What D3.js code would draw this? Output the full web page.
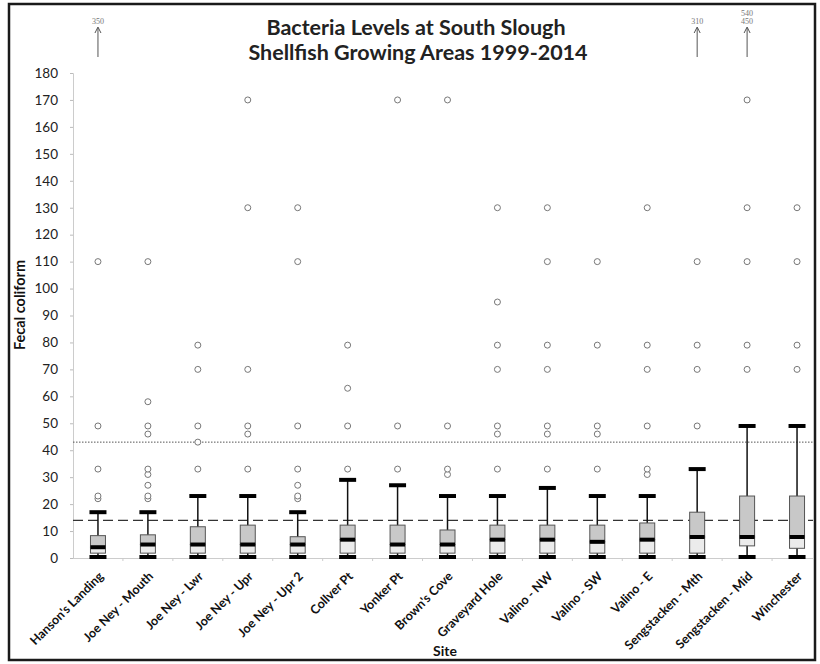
<!DOCTYPE html>
<html>
  <head>
    <meta charset="utf-8" />
    <title>Bacteria Levels at South Slough</title>
    <script src="https://d3js.org/d3.v7.min.js"></script>
    <style>
      body {
          margin: 0;
          background: #fff;
      }
      text {
          font-family: Lato, "Open Sans", sans-serif;
      }
    </style>
  </head>
  <body>

    <svg id="boxplot"></svg>

    <script>
        // site names, left to right
        var sites = ["Hanson's Landing", "Joe Ney - Mouth", "Joe Ney - Lwr", "Joe Ney - Upr",
            "Joe Ney - Upr 2", "Collver Pt", "Yonker Pt", "Brown's Cove", "Graveyard Hole",
            "Valino - NW", "Valino - SW", "Valino - E", "Sengstacken - Mth",
            "Sengstacken - Mid", "Winchester"];

        // box stats (fecal coliform, MPN/100ml)
        var whiskerLow  = [0, 0, 0, 0, 0, 0, 0, 0, 0, 0, 0, 0, 0, 0, 0];
        var q1          = [1.8, 1.8, 1.8, 1.8, 1.8, 1.8, 1.8, 1.8, 1.8, 1.8, 1.8, 1.8, 1.8, 4.5, 3.6];
        var medians     = [4, 5, 5, 5, 5, 6.8, 5, 5, 6.8, 6.8, 6, 6.8, 7.8, 7.8, 7.8];
        var q3          = [8.3, 8.6, 11.6, 12.2, 7.9, 12.2, 12.2, 10.4, 12.2, 12.2, 12.2, 13, 17, 23, 23];
        var whiskerHigh = [17, 17, 23, 23, 17, 29, 27, 23, 23, 26, 23, 23, 33, 49, 49];

        // outliers inside the plotted range
        var outliers = [
            [22, 23, 33, 49, 110],
            [22, 23, 27, 31, 33, 46, 49, 58, 110],
            [33, 43, 49, 70, 79],
            [33, 46, 49, 70, 130, 170],
            [22, 23, 27, 33, 49, 110, 130],
            [33, 49, 63, 79],
            [33, 49, 170],
            [31, 33, 49, 170],
            [33, 46, 49, 70, 79, 95, 130],
            [33, 46, 49, 70, 79, 110, 130],
            [33, 46, 49, 79, 110],
            [31, 33, 49, 70, 79, 130],
            [49, 70, 79, 110],
            [70, 79, 110, 130, 170],
            [70, 79, 110, 130]
        ];

        // values above 180, shown as arrows with labels
        var offScale = [["350"], [], [], [], [], [], [], [], [], [], [], [], ["310"], ["540", "450"], []];

        var yTicks = d3.range(0, 181, 10);
        var refDotted = 43;
        var refDashed = 14;

        var width = 820;
        var height = 664;
        var margin = {top: 73, right: 0, bottom: 106, left: 73};

        var svg = d3.select("#boxplot")
            .attr("width", width)
            .attr("height", height);

        // outer frame
        svg.append("rect")
            .attr("x", 9).attr("y", 4)
            .attr("width", 806).attr("height", 656)
            .attr("fill", "none")
            .attr("stroke", "#1a1a1a")
            .attr("stroke-width", 2.5);

        var x = d3.scaleBand()
            .domain(sites)
            .range([margin.left, 822])
            .padding(0);

        var y = d3.scaleLinear()
            .domain([0, 180])
            .range([height - margin.bottom, margin.top]);

        // title
        var title = svg.append("text")
            .attr("text-anchor", "middle")
            .attr("font-weight", "bold")
            .attr("font-size", 21.5)
            .attr("fill", "#222");
        title.append("tspan").attr("x", 416).attr("y", 35).text("Bacteria Levels at South Slough");
        title.append("tspan").attr("x", 418).attr("y", 60).text("Shellfish Growing Areas 1999-2014");

        // y axis
        var yAxis = d3.axisLeft(y).tickValues(yTicks).tickSize(3).tickPadding(12);
        var gy = svg.append("g")
            .attr("transform", "translate(" + margin.left + ",0)")
            .call(yAxis);
        gy.select(".domain").attr("stroke", "#ccc");
        gy.selectAll(".tick line").attr("stroke", "#bbb");
        gy.selectAll(".tick text")
            .attr("font-size", 13.5)
            .attr("fill", "#222")
            .style("font-family", "Lato, sans-serif");

        svg.append("text")
            .attr("transform", "translate(25," + 305 + ") rotate(-90)")
            .attr("text-anchor", "middle")
            .attr("font-weight", "bold")
            .attr("font-size", 14.5)
            .attr("fill", "#111")
            .text("Fecal coliform");

        // x axis
        var xAxis = d3.axisBottom(x).tickSize(0).tickPadding(0);
        var gx = svg.append("g")
            .attr("transform", "translate(0," + y(0) + ")")
            .call(xAxis);
        gx.select(".domain").attr("stroke", "#ccc").attr("d", "M" + margin.left + ",0.5H813");
        gx.selectAll(".tick text")
            .attr("font-size", 12.5)
            .attr("font-weight", "bold")
            .attr("fill", "#111")
            .attr("text-anchor", "end")
            .attr("y", 0)
            .attr("dy", "0.35em")
            .attr("transform", "translate(3,16) rotate(-45)")
            .style("font-family", "Lato, sans-serif");
        // small separators between sites
        svg.append("g").selectAll("line")
            .data(sites.slice(1))
            .join("line")
            .attr("x1", function(d) { return x(d); })
            .attr("x2", function(d) { return x(d); })
            .attr("y1", y(0))
            .attr("y2", y(0) + 3)
            .attr("stroke", "#ccc");

        svg.append("text")
            .attr("x", 445).attr("y", 656)
            .attr("text-anchor", "middle")
            .attr("font-weight", "bold")
            .attr("font-size", 14)
            .attr("fill", "#111")
            .text("Site");

        // reference lines
        svg.append("line")
            .attr("x1", margin.left).attr("x2", 813)
            .attr("y1", y(refDotted)).attr("y2", y(refDotted))
            .attr("stroke", "#555").attr("stroke-width", 1)
            .attr("stroke-dasharray", "1.5,1.5");
        svg.append("line")
            .attr("x1", margin.left).attr("x2", 813)
            .attr("y1", y(refDashed)).attr("y2", y(refDashed))
            .attr("stroke", "#333").attr("stroke-width", 1.3)
            .attr("stroke-dasharray", "10,5");

        var boxW = 15;
        var capW = 17;
        var sitesData = sites.map(function(s, i) {
            return {site: s, lo: whiskerLow[i], q1: q1[i], med: medians[i], q3: q3[i],
                    hi: whiskerHigh[i], out: outliers[i], off: offScale[i]};
        });

        var boxes = svg.append("g").selectAll("g")
            .data(sitesData)
            .join("g")
            .attr("transform", function(d) { return "translate(" + (x(d.site) + x.bandwidth() / 2) + ",0)"; });

        // whisker stem
        boxes.append("line")
            .attr("x1", 0).attr("x2", 0)
            .attr("y1", function(d) { return y(d.hi); })
            .attr("y2", function(d) { return y(d.lo); })
            .attr("stroke", "#111").attr("stroke-width", 1.5);

        // lower part of box (q1 - median)
        boxes.append("rect")
            .attr("x", -boxW / 2).attr("width", boxW)
            .attr("y", function(d) { return y(d.med); })
            .attr("height", function(d) { return y(d.q1) - y(d.med); })
            .attr("fill", "#ebebeb").attr("stroke", "#555").attr("stroke-width", 1);

        // upper part of box (median - q3)
        boxes.append("rect")
            .attr("x", -boxW / 2).attr("width", boxW)
            .attr("y", function(d) { return y(d.q3); })
            .attr("height", function(d) { return y(d.med) - y(d.q3); })
            .attr("fill", "#c8c8c8").attr("stroke", "#555").attr("stroke-width", 1);

        // median
        boxes.append("line")
            .attr("x1", -boxW / 2).attr("x2", boxW / 2)
            .attr("y1", function(d) { return y(d.med); })
            .attr("y2", function(d) { return y(d.med); })
            .attr("stroke", "#000").attr("stroke-width", 4);

        // caps
        boxes.append("line")
            .attr("x1", -capW / 2).attr("x2", capW / 2)
            .attr("y1", function(d) { return y(d.hi); })
            .attr("y2", function(d) { return y(d.hi); })
            .attr("stroke", "#000").attr("stroke-width", 4);
        boxes.append("line")
            .attr("x1", -capW / 2).attr("x2", capW / 2)
            .attr("y1", function(d) { return y(d.lo) - 1; })
            .attr("y2", function(d) { return y(d.lo) - 1; })
            .attr("stroke", "#000").attr("stroke-width", 4);

        // outliers
        boxes.selectAll("circle")
            .data(function(d) { return d.out; })
            .join("circle")
            .attr("cx", 0)
            .attr("cy", function(v) { return y(v); })
            .attr("r", 3)
            .attr("fill", "#fff")
            .attr("stroke", "#777")
            .attr("stroke-width", 1);

        // off-scale arrows
        var offs = boxes.filter(function(d) { return d.off.length > 0; });
        offs.append("line")
            .attr("x1", 0).attr("x2", 0)
            .attr("y1", 57).attr("y2", 28)
            .attr("stroke", "#555").attr("stroke-width", 1);
        offs.append("path")
            .attr("d", "M-3,33L0,27L3,33")
            .attr("fill", "none")
            .attr("stroke", "#555").attr("stroke-width", 1);
        offs.selectAll(".offlabel")
            .data(function(d) { return d.off; })
            .join("text")
            .attr("class", "offlabel")
            .attr("x", 0)
            .attr("y", function(v, i, nodes) { return 24 - (nodes.length - 1 - i) * 8; })
            .attr("text-anchor", "middle")
            .attr("font-size", 8)
            .attr("fill", "#777")
            .style("font-family", "'Liberation Serif', serif")
            .text(function(v) { return v; });
    </script>
  </body>
</html>
